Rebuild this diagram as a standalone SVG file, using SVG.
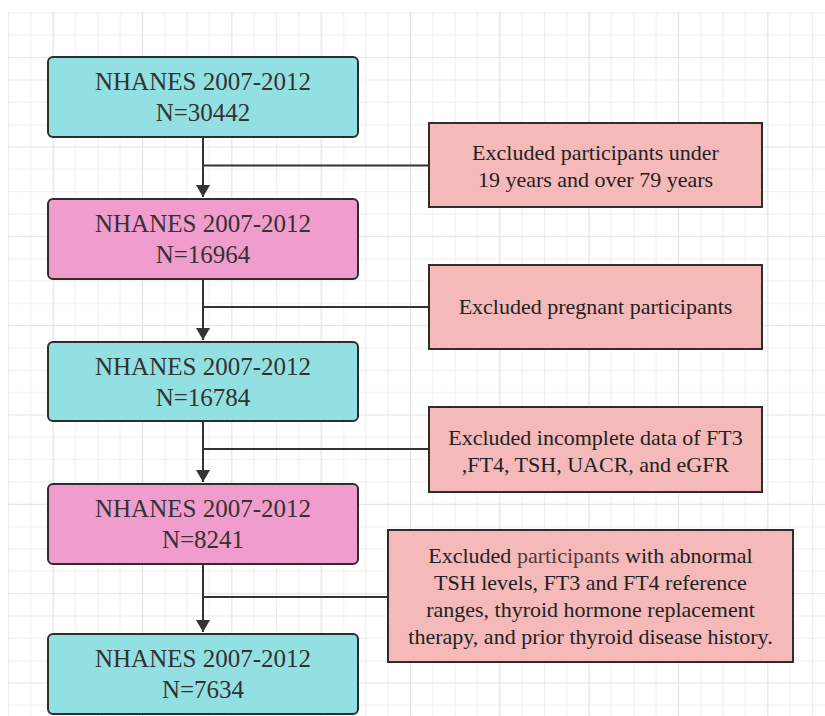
<svg xmlns="http://www.w3.org/2000/svg" width="825" height="716" viewBox="0 0 825 716">
<defs>
<pattern id="grid" patternUnits="userSpaceOnUse" x="8" y="12.5" width="89.33" height="89.33">
<path d="M0.5 0V89.33M22.83 0V89.33M67.5 0V89.33M0 0.5H89.33M0 22.83H89.33M0 67.5H89.33" stroke="#eeeeee" stroke-width="1" fill="none"/>
<path d="M45.17 0V89.33M0 45.17H89.33" stroke="#e2e2e2" stroke-width="1.2" fill="none"/>
</pattern>
<marker id="arr" viewBox="0 0 12 14" refX="12" refY="7" markerWidth="12" markerHeight="14" markerUnits="userSpaceOnUse" orient="auto">
<path d="M0 0L12 7L0 14Z" fill="#333"/>
</marker>
<style>
.main{stroke:#2d2d2d;stroke-width:2}
.cyan{fill:#93e0e2}
.pink{fill:#f09ccd}
.exc{fill:#f4b9b8;stroke:#2d2d2d;stroke-width:2}
.t1{font-family:"Liberation Serif","Times New Roman",serif;font-size:25px;fill:#333;text-anchor:middle}
.t2{font-family:"Liberation Serif","Times New Roman",serif;font-size:22px;fill:#222;text-anchor:middle}
.ln{stroke:#333;stroke-width:2;fill:none}
</style>
</defs>
<rect width="825" height="716" fill="#fff"/>
<rect x="8" y="12" width="817" height="704" fill="url(#grid)"/>
<g id="connectors">
<path class="ln" d="M203 137V197" marker-end="url(#arr)"/>
<path class="ln" d="M203 165.5H429"/>
<path class="ln" d="M203 279V340" marker-end="url(#arr)"/>
<path class="ln" d="M203 307H429"/>
<path class="ln" d="M203 421V482" marker-end="url(#arr)"/>
<path class="ln" d="M203 449H429"/>
<path class="ln" d="M203 564V632" marker-end="url(#arr)"/>
<path class="ln" d="M203 597H388"/>
</g>
<g id="n1">
<rect class="main cyan" x="48" y="57" width="310" height="80" rx="5"/>
<text class="t1" x="203" y="90">NHANES 2007-2012</text>
<text class="t1" x="203" y="121">N=30442</text>
</g>
<g id="n2">
<rect class="main pink" x="48" y="199" width="310" height="80" rx="5"/>
<text class="t1" x="203" y="232">NHANES 2007-2012</text>
<text class="t1" x="203" y="263">N=16964</text>
</g>
<g id="n3">
<rect class="main cyan" x="48" y="342" width="310" height="79" rx="5"/>
<text class="t1" x="203" y="375">NHANES 2007-2012</text>
<text class="t1" x="203" y="406">N=16784</text>
</g>
<g id="n4">
<rect class="main pink" x="48" y="484" width="310" height="80" rx="5"/>
<text class="t1" x="203" y="517">NHANES 2007-2012</text>
<text class="t1" x="203" y="548">N=8241</text>
</g>
<g id="n5">
<rect class="main cyan" x="48" y="634" width="310" height="80" rx="5"/>
<text class="t1" x="203" y="667">NHANES 2007-2012</text>
<text class="t1" x="203" y="698">N=7634</text>
</g>
<g id="e1">
<rect class="exc" x="429" y="123" width="333" height="84"/>
<text class="t2" x="595.5" y="160">Excluded participants under</text>
<text class="t2" x="595.5" y="187">19 years and over 79 years</text>
</g>
<g id="e2">
<rect class="exc" x="429" y="265" width="333" height="84"/>
<text class="t2" x="595.5" y="314">Excluded pregnant participants</text>
</g>
<g id="e3">
<rect class="exc" x="429" y="407" width="333" height="85"/>
<text class="t2" x="595.5" y="445">Excluded incomplete data of FT3</text>
<text class="t2" x="595.5" y="472">,FT4, TSH, UACR, and eGFR</text>
</g>
<g id="e4">
<rect class="exc" x="388" y="530" width="405" height="132"/>
<text class="t2" x="590.5" y="563">Excluded <tspan fill="#4e3d3d">participants</tspan> with abnormal</text>
<text class="t2" x="590.5" y="590">TSH levels, FT3 and FT4 reference</text>
<text class="t2" x="590.5" y="617">ranges, thyroid hormone replacement</text>
<text class="t2" x="590.5" y="644">therapy, and prior thyroid disease history.</text>
</g>
</svg>
